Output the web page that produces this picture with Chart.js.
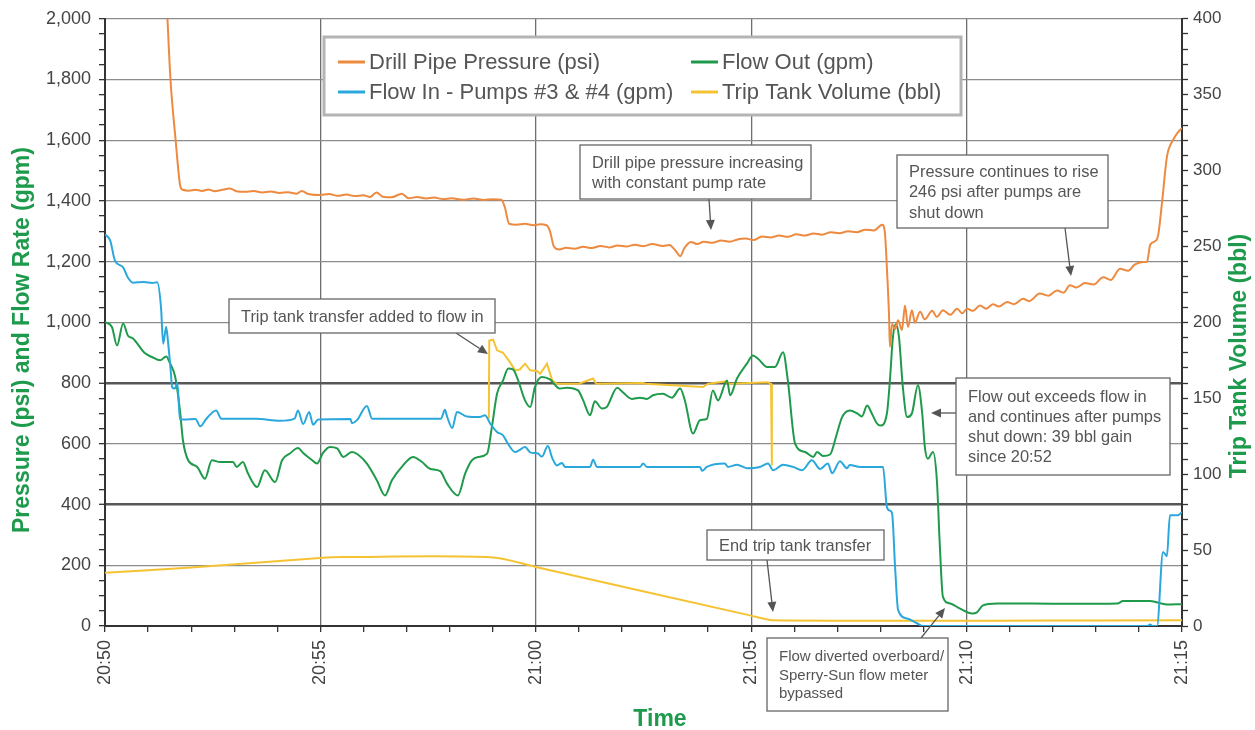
<!DOCTYPE html>
<html lang="en">
<head>
  <meta charset="UTF-8" />
  <title>Drill Pipe Pressure, Flow and Trip Tank Volume</title>
  <script src="https://cdn.jsdelivr.net/npm/chart.js"></script>
</head>
<body style="margin: 0; background: #fff;">

  <div style="position: relative; width: 1255px; height: 730px;">
    <canvas id="kickChart"></canvas>
  </div>

  <script>
    // time is minutes after 20:50
    const timeLabels = ['20:50', '20:55', '21:00', '21:05', '21:10', '21:15'];

    const pressureTime = [1.44,1.52,1.64,1.74,1.80,1.95,2.10,2.25,2.40,2.55,
      2.70,2.90,3.05,3.25,3.45,3.65,3.85,4.05,4.25,4.45,
      4.57,4.70,4.99,5.20,5.40,5.60,5.80,6.00,6.15,6.30,
      6.45,6.65,6.89,7.05,7.25,7.45,7.64,7.85,8.05,8.30,
      8.55,8.80,9.00,9.20,9.28,9.38,9.55,9.75,9.95,10.10,
      10.25,10.33,10.42,10.55,10.70,10.90,11.10,11.30,11.50,11.70,
      11.90,12.10,12.30,12.50,12.70,12.95,13.10,13.25,13.35,13.45,
      13.60,13.75,13.90,14.10,14.30,14.50,14.70,14.88,15.05,15.25,
      15.45,15.65,15.85,16.05,16.25,16.45,16.65,16.85,17.05,17.25,
      17.45,17.65,17.85,18.04,18.10,18.16,18.20,18.22,18.27,18.34,
      18.41,18.50,18.57,18.64,18.73,18.80,18.92,19.03,19.20,19.31,
      19.45,19.62,19.78,19.90,20.01,20.15,20.31,20.45,20.61,20.75,
      20.94,21.10,21.31,21.45,21.70,21.90,22.10,22.25,22.40,22.55,
      22.75,22.95,23.17,23.35,23.56,23.75,23.90,24.10,24.19,24.26,
      24.40,24.45,24.54,24.65,24.79,24.90,25.00];
    const pressurePsi = [2030,1800,1600,1455,1437,1434,1437,1433,1438,1432,
      1436,1441,1432,1430,1433,1428,1431,1426,1429,1424,
      1433,1424,1420,1423,1417,1421,1416,1419,1413,1428,
      1414,1412,1424,1409,1413,1408,1411,1406,1409,1404,
      1408,1403,1406,1404,1380,1325,1322,1325,1320,1323,
      1320,1300,1250,1240,1246,1243,1249,1245,1252,1247,
      1253,1250,1256,1251,1258,1252,1255,1235,1218,1245,
      1265,1258,1266,1262,1270,1266,1274,1276,1271,1283,
      1280,1286,1282,1290,1286,1293,1289,1297,1294,1300,
      1297,1305,1303,1322,1300,1150,1020,920,995,978,
      1007,975,1056,985,1040,1000,1035,1010,1038,1018,
      1040,1025,1045,1030,1045,1038,1056,1045,1060,1052,
      1067,1060,1078,1070,1095,1088,1105,1098,1122,1115,
      1130,1125,1149,1140,1177,1170,1190,1199,1200,1255,
      1270,1290,1400,1545,1600,1625,1640];

    const flowInTime = [0.00,0.12,0.23,0.42,0.53,0.65,0.90,1.10,1.21,1.30,
      1.35,1.42,1.46,1.52,1.56,1.62,1.68,1.74,1.85,2.10,
      2.21,2.35,2.58,2.70,3.50,4.06,4.40,4.48,4.60,4.74,
      4.83,4.95,5.70,5.73,5.85,6.08,6.20,7.80,7.89,7.94,
      8.06,8.17,8.40,8.70,8.82,8.94,9.10,9.24,9.35,9.52,
      9.63,9.75,9.87,10.05,10.14,10.28,10.38,10.49,10.61,10.68,
      11.26,11.33,11.42,12.42,12.49,12.58,13.81,13.86,13.97,14.39,
      14.46,14.67,14.90,15.20,15.39,15.51,15.74,15.97,16.18,16.41,
      16.60,16.78,16.88,17.06,17.22,17.29,17.53,18.06,18.15,18.22,
      18.27,18.34,18.41,18.62,18.85,18.99,24.20,24.26,24.32,24.42,
      24.56,24.65,24.72,24.91,25.00];
    const flowInGpm = [1290,1270,1204,1181,1148,1131,1133,1130,1132,1050,
      930,985,940,850,786,782,800,680,680,682,
      658,682,710,683,683,676,683,710,665,705,
      663,680,682,668,678,725,683,683,712,690,
      652,705,690,688,694,667,639,628,601,573,
      580,590,572,568,558,593,554,529,537,524,
      524,548,524,524,535,524,524,511,524,535,
      524,531,520,524,535,513,531,524,513,546,
      517,535,503,543,520,530,524,524,392,380,
      371,194,52,25,9,0,0,5,0,0,
      244,230,365,365,375];

    const flowOutTime = [0.00,0.16,0.28,0.42,0.53,0.65,0.93,1.09,1.28,1.42,
      1.51,1.63,1.74,1.81,1.93,2.14,2.32,2.48,2.67,2.97,
      3.06,3.20,3.32,3.53,3.71,3.95,4.11,4.29,4.48,4.60,
      4.81,4.92,5.06,5.22,5.39,5.53,5.73,5.87,6.08,6.31,
      6.50,6.66,6.89,7.15,7.36,7.54,7.78,7.94,8.19,8.36,
      8.52,8.66,8.87,8.98,9.10,9.24,9.36,9.47,9.59,9.75,
      9.87,9.98,10.14,10.33,10.56,10.72,10.98,11.10,11.26,11.37,
      11.54,11.65,11.89,12.02,12.23,12.42,12.58,12.72,12.95,13.16,
      13.35,13.46,13.65,13.81,13.97,14.11,14.23,14.44,14.51,14.67,
      14.90,15.04,15.16,15.37,15.55,15.74,15.85,16.02,16.25,16.44,
      16.53,16.67,16.83,16.99,17.11,17.29,17.46,17.57,17.69,17.80,
      17.92,18.00,18.15,18.22,18.29,18.36,18.43,18.52,18.62,18.73,
      18.87,18.97,19.03,19.10,19.22,19.31,19.38,19.45,19.62,19.85,
      20.13,20.24,20.38,20.71,21.50,22.50,23.50,23.63,24.26,24.65,
      25.00];
    const flowOutGpm = [1001,985,924,996,957,947,898,886,875,888,
      865,820,710,611,546,524,485,546,540,540,
      524,540,502,458,513,474,546,568,586,570,
      546,535,570,590,585,557,573,565,535,480,
      430,480,524,557,540,518,510,469,430,502,
      546,557,568,655,765,809,848,845,809,743,
      721,787,820,812,782,785,776,743,694,740,
      716,722,785,770,748,752,748,760,765,752,
      782,743,634,678,682,776,743,809,760,815,
      864,891,880,853,853,902,809,600,573,557,
      573,560,565,634,688,710,700,690,726,700,
      667,660,700,809,952,994,952,787,688,700,
      793,700,590,551,573,480,260,96,74,57,
      41,45,68,74,74,73,74,82,82,71,
      72];

    // flow in while the trip tank was being transferred (yellow, left axis)
    const transferTime = [8.91,8.92,9.01,9.10,9.24,9.40,9.52,9.63,9.75,9.87,
      10.03,10.10,10.26,10.38,10.49,11.00,11.33,11.40,12.49,12.55,
      13.88,14.00,14.39,14.50,15.39,15.44,15.46,15.48];
    const transferGpm = [683,940,943,908,900,869,842,845,864,842,
      840,831,864,809,798,798,815,798,800,798,
      787,798,805,798,803,798,798,529];

    const tripTankTime = [0.00, 2.00, 4.99, 5.50, 9.00, 10.00, 14.97, 15.50, 25.00];
    const tripTankBbl = [35.0, 38.6, 44.8, 45.4, 45.2, 38.9, 7.0, 3.8, 3.8];

    const toPoints = (xs, ys) => xs.map((x, i) => ({ x: x, y: ys[i] }));

    const GREEN = '#1d9a4c';
    const TEXT = '#555555';
    const FONT = "'Liberation Sans', Arial, sans-serif";

    const callouts = [
      { box: [229, 299, 266, 34], size: 16.4, lh: 20, lines: ['Trip tank transfer added to flow in'], from: [456, 333], to: [488, 354] },
      { box: [580, 145, 231, 54], size: 16.4, lh: 20, lines: ['Drill pipe pressure increasing', 'with constant pump rate'], from: [709, 199], to: [711, 230] },
      { box: [897, 155, 211, 73], size: 16.4, lh: 20.5, lines: ['Pressure continues to rise', '246 psi after pumps are', 'shut down'], from: [1065, 228], to: [1071, 276] },
      { box: [956, 378, 214, 97], size: 16.4, lh: 19.7, lines: ['Flow out exceeds flow in', 'and continues after pumps', 'shut down: 39 bbl gain', 'since 20:52'], from: [956, 413], to: [931, 413] },
      { box: [707, 530, 177, 30], size: 16.4, lh: 20, lines: ['End trip tank transfer'], from: [767, 560], to: [773, 612] },
      { box: [767, 638, 181, 73], size: 15, lh: 18.5, lines: ['Flow diverted overboard/', 'Sperry-Sun flow meter', 'bypassed'], from: [921, 638], to: [945, 608] }
    ];

    function drawArrow(ctx, from, to) {
      const ang = Math.atan2(to[1] - from[1], to[0] - from[0]);
      const len = 10, half = 4.5;
      const bx = to[0] - len * Math.cos(ang), by = to[1] - len * Math.sin(ang);
      ctx.strokeStyle = '#555';
      ctx.fillStyle = '#555';
      ctx.lineWidth = 1.3;
      ctx.beginPath();
      ctx.moveTo(from[0], from[1]);
      ctx.lineTo(bx, by);
      ctx.stroke();
      ctx.beginPath();
      ctx.moveTo(to[0], to[1]);
      ctx.lineTo(bx + half * Math.sin(ang), by - half * Math.cos(ang));
      ctx.lineTo(bx - half * Math.sin(ang), by + half * Math.cos(ang));
      ctx.closePath();
      ctx.fill();
    }

    const overlayPlugin = {
      id: 'overlay',
      afterDatasetsDraw(chart) {
        const ctx = chart.ctx;
        ctx.save();

        // legend box, two columns
        ctx.fillStyle = '#fff';
        ctx.fillRect(324, 37, 637, 78);
        ctx.strokeStyle = '#b4b4b4';
        ctx.lineWidth = 3;
        ctx.strokeRect(324, 37, 637, 78);
        const slots = [[338, 62], [338, 92], [691, 62], [691, 92]];
        ctx.font = '22px ' + FONT;
        ctx.textBaseline = 'middle';
        ctx.textAlign = 'left';
        slots.forEach((s, i) => {
          const ds = chart.data.datasets[i];
          ctx.strokeStyle = ds.borderColor;
          ctx.lineWidth = 3;
          ctx.beginPath();
          ctx.moveTo(s[0], s[1]);
          ctx.lineTo(s[0] + 27, s[1]);
          ctx.stroke();
          ctx.fillStyle = TEXT;
          ctx.fillText(ds.label, s[0] + 31, s[1] + 1);
        });

        // callouts
        callouts.forEach(c => {
          const [x, y, w, h] = c.box;
          drawArrow(ctx, c.from, c.to);
          ctx.fillStyle = '#fff';
          ctx.fillRect(x, y, w, h);
          ctx.strokeStyle = '#666';
          ctx.lineWidth = 1.3;
          ctx.strokeRect(x, y, w, h);
          ctx.fillStyle = TEXT;
          ctx.font = c.size + 'px ' + FONT;
          ctx.textBaseline = 'middle';
          const y0 = y + h / 2 - (c.lines.length - 1) * c.lh / 2;
          c.lines.forEach((t, i) => ctx.fillText(t, x + 12, y0 + i * c.lh + 1));
        });

        // axis titles
        ctx.fillStyle = GREEN;
        ctx.font = 'bold 23px ' + FONT;
        ctx.textAlign = 'center';
        ctx.textBaseline = 'alphabetic';
        ctx.fillText('Time', 660, 726);
        ctx.save();
        ctx.translate(29, 340);
        ctx.rotate(-Math.PI / 2);
        ctx.fillText('Pressure (psi) and Flow Rate (gpm)', 0, 0);
        ctx.restore();
        ctx.save();
        ctx.translate(1246, 356);
        ctx.rotate(-Math.PI / 2);
        ctx.fillText('Trip Tank Volume (bbl)', 0, 0);
        ctx.restore();

        ctx.restore();
      }
    };

    const lineStyle = { pointRadius: 0, borderWidth: 2, fill: false };

    const ctx = document.getElementById('kickChart').getContext('2d');
    new Chart(ctx, {
      type: 'line',
      data: {
        datasets: [
          { ...lineStyle, label: 'Drill Pipe Pressure (psi)', data: toPoints(pressureTime, pressurePsi), borderColor: '#ed8a3f', yAxisID: 'y', cubicInterpolationMode: 'monotone' },
          { ...lineStyle, label: 'Flow In - Pumps #3 & #4 (gpm)', data: toPoints(flowInTime, flowInGpm), borderColor: '#2aa8dc', yAxisID: 'y', cubicInterpolationMode: 'monotone' },
          { ...lineStyle, label: 'Flow Out (gpm)', data: toPoints(flowOutTime, flowOutGpm), borderColor: '#1f9a4b', yAxisID: 'y', cubicInterpolationMode: 'monotone' },
          { ...lineStyle, label: 'Trip Tank Volume (bbl)', data: toPoints(tripTankTime, tripTankBbl), borderColor: '#f5c332', yAxisID: 'y2', tension: 0.3 },
          { ...lineStyle, label: 'Flow In with trip tank transfer (gpm)', data: toPoints(transferTime, transferGpm), borderColor: '#f5c332', yAxisID: 'y', tension: 0 }
        ]
      },
      options: {
        responsive: true,
        maintainAspectRatio: false,
        animation: false,
        layout: { padding: { top: 18, left: 0, right: 0, bottom: 0 } },
        plugins: {
          legend: { display: false },
          tooltip: { enabled: false }
        },
        scales: {
          x: {
            type: 'linear',
            min: 0,
            max: 25,
            afterFit: s => { s.height = 104; },
            border: { color: '#333', width: 2 },
            grid: {
              color: c => (c.tick && c.tick.value % 5 === 0) ? '#6e6e6e' : 'rgba(0,0,0,0)',
              lineWidth: 1.3,
              tickColor: '#333',
              tickLength: 6,
              tickWidth: 1.3
            },
            ticks: {
              stepSize: 1,
              autoSkip: false,
              minRotation: 90,
              maxRotation: 90,
              padding: 8,
              color: '#444',
              font: { family: FONT, size: 18 },
              callback: v => (v % 5 === 0 ? timeLabels[v / 5] : '')
            }
          },
          y: {
            position: 'left',
            min: 0,
            max: 2000,
            afterFit: s => { s.width = 105; },
            border: { color: '#333', width: 2 },
            grid: {
              color: c => {
                const v = c.tick && c.tick.value;
                if (v % 200 !== 0) return 'rgba(0,0,0,0)';
                return (v === 400 || v === 800) ? '#575757' : '#8c8c8c';
              },
              lineWidth: c => {
                const v = c.tick && c.tick.value;
                return (v === 400 || v === 800) ? 2.6 : 1.3;
              },
              tickColor: '#333',
              tickLength: 6,
              tickWidth: 1.3
            },
            ticks: {
              stepSize: 50,
              autoSkip: false,
              padding: 8,
              color: '#444',
              font: { family: FONT, size: 18 },
              callback: v => (v % 200 === 0 ? v.toLocaleString('en-US') : '')
            }
          },
          y2: {
            position: 'right',
            min: 0,
            max: 400,
            afterFit: s => { s.width = 73; },
            border: { color: '#333', width: 2 },
            grid: {
              drawOnChartArea: false,
              tickColor: '#333',
              tickLength: 6,
              tickWidth: 1.3
            },
            ticks: {
              stepSize: 10,
              autoSkip: false,
              padding: 5,
              color: '#444',
              font: { family: FONT, size: 17 },
              callback: v => (v % 50 === 0 ? String(v) : '')
            }
          }
        }
      },
      plugins: [overlayPlugin]
    });
  </script>
</body>
</html>
